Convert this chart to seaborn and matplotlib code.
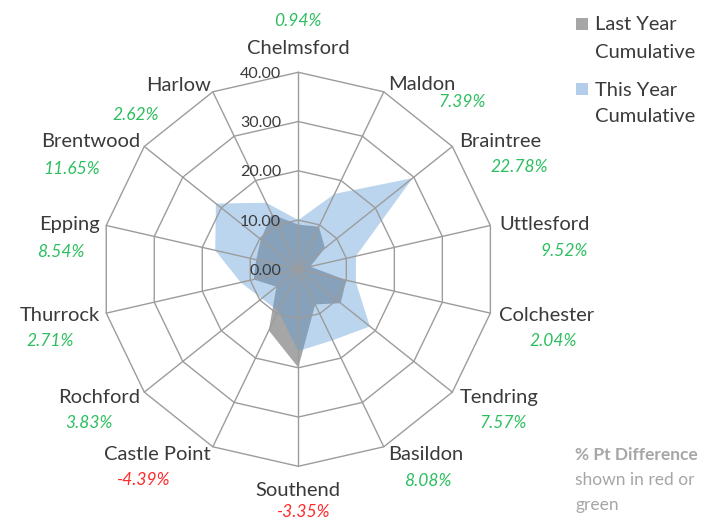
import numpy as np
import matplotlib
matplotlib.use("Agg")
import matplotlib.pyplot as plt
from matplotlib.patches import Rectangle
import seaborn as sns

# ---------------- data ----------------
categories = ["Chelmsford", "Maldon", "Braintree", "Uttlesford", "Colchester",
              "Tendring", "Basildon", "Southend", "Castle Point", "Rochford",
              "Thurrock", "Epping", "Brentwood", "Harlow"]
this_year = [10.0, 17.0, 29.7, 12.0, 12.0, 18.6, 16.0, 16.6, 9.4, 9.5,
             12.0, 17.3, 21.4, 15.0]
last_year = [9.06, 9.61, 6.92, 2.48, 9.96, 11.03, 7.92, 19.95, 13.79, 5.67,
             9.29, 8.76, 9.75, 12.38]
pct_diff = [0.94, 7.39, 22.78, 9.52, 2.04, 7.57, 8.08, -3.35, -4.39, 3.83,
            2.71, 8.54, 11.65, 2.62]
radial_ticks = [0, 10, 20, 30, 40]
legend_labels = ["Last Year\nCumulative", "This Year\nCumulative"]

# ---------------- layout (pixel offsets from each outer vertex) ----------------
cat_offsets = [(0, 24, "center"), (4, 7, "left"), (7, 4.6, "left"), (9, 1.4, "left"),
               (9, -2.8, "left"), (7, -5, "left"), (4, -8.2, "left"), (0, -24, "center"),
               (-2, -8.2, "right"), (-4, -5, "right"), (-6, -2.8, "right"),
               (-6, 1.4, "right"), (-4, 4.6, "right"), (-2, 6.8, "right")]
pct_offsets = [(0, 51), (78, -10), (67, -21), (74, -26), (63, -28), (51, -31),
               (44, -34), (4, -46), (-70, -33), (-55, -31), (-56, -28),
               (-45, -27), (-73, -23), (-77, -23)]

sns.set_theme(style="white")
plt.rcParams["font.family"] = ["Lato", "DejaVu Sans"]

W, H = 720, 522
fig = plt.figure(figsize=(W / 100, H / 100), dpi=100)
fig.patch.set_facecolor("white")

cx, cy, R = 298.3, 269.3, 197.0
ax = fig.add_axes([(cx - R) / W, (H - cy - R) / H, 2 * R / W, 2 * R / H],
                  projection="polar")
ax.set_theta_zero_location("N")
ax.set_theta_direction(-1)
ax.set_ylim(0, radial_ticks[-1])
ax.grid(False)
ax.spines["polar"].set_visible(False)
ax.set_xticks([])
ax.set_yticks([])
ax.patch.set_alpha(0)

n = len(categories)
theta = np.arange(n) * 2 * np.pi / n
tc = np.append(theta, theta[0])

grey = "#A6A6A6"
blue = "#5B9BD5"
ly = np.append(last_year, last_year[0])
ty = np.append(this_year, this_year[0])
ax.fill(tc, ly, color=grey, lw=0, zorder=1)
ax.fill(tc, ty, color=blue, alpha=0.42, lw=0, zorder=2)

gcol = "#9C9C9C"
for r in radial_ticks[1:]:
    ax.plot(tc, [r] * len(tc), color=gcol, lw=1.0, zorder=3, clip_on=False)
for t in theta:
    ax.plot([t, t], [0, radial_ticks[-1]], color=gcol, lw=1.0, zorder=3, clip_on=False)

text_col = "#3A3A3A"
for v in radial_ticks:
    ax.annotate(f"{v:.2f}", xy=(0, v), xytext=(-17, -1.5), textcoords="offset pixels",
                ha="right", va="center", fontsize=11.5, color=text_col, zorder=5)

for i, name in enumerate(categories):
    dx, dy, ha = cat_offsets[i]
    ax.annotate(name, xy=(theta[i], radial_ticks[-1]), xytext=(dx, dy),
                textcoords="offset pixels", ha=ha, va="center",
                fontsize=14.5, color=text_col, annotation_clip=False)
    pdx, pdy = pct_offsets[i]
    val = pct_diff[i]
    ax.annotate(f"{val:.2f}%", xy=(theta[i], radial_ticks[-1]), xytext=(pdx, pdy),
                textcoords="offset pixels", ha="center", va="center",
                fontsize=12.5, style="italic",
                color="#2DBE60" if val >= 0 else "#FF2B2B", annotation_clip=False)

# legend
for k, (lab, col) in enumerate(zip(legend_labels, [grey, "#B4CDEB"])):
    top = 18 + k * 65
    fig.add_artist(Rectangle((576 / W, 1 - (top + 12) / H), 12 / W, 12 / H,
                             transform=fig.transFigure, color=col, lw=0))
    l1, l2 = lab.split("\n")
    fig.text(595 / W, 1 - (top + 7) / H, l1, ha="left", va="center",
             fontsize=14.5, color=text_col)
    fig.text(595 / W, 1 - (top + 34) / H, l2, ha="left", va="center",
             fontsize=14.5, color=text_col)

note_col = "#A6A6A6"
fig.text(575 / W, 1 - 455 / H, "% Pt Difference", ha="left", va="center",
         fontsize=12.5, color=note_col, fontweight="bold")
fig.text(575 / W, 1 - 480 / H, "shown in red or", ha="left", va="center",
         fontsize=12.5, color=note_col)
fig.text(575 / W, 1 - 505 / H, "green", ha="left", va="center",
         fontsize=12.5, color=note_col)

fig.savefig("out.png", dpi=100)
